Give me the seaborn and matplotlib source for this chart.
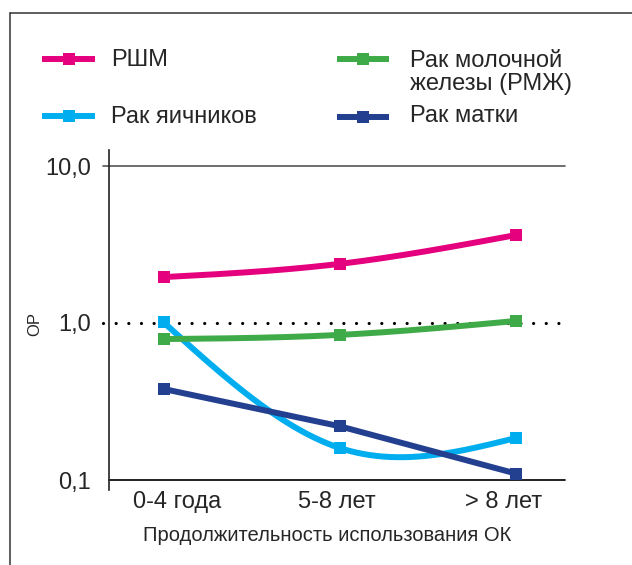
import numpy as np
import pandas as pd
import matplotlib
matplotlib.use("Agg")
import matplotlib.pyplot as plt
import matplotlib.transforms as mtransforms
import seaborn as sns
from matplotlib.lines import Line2D

# ---------------- data ----------------
categories = ["0-4 года", "5-8 лет", "> 8 лет"]
rshm = [1.96, 2.38, 3.63]
rmzh = [0.79, 0.84, 1.03]
ovary = [1.01, 0.16, 0.185]
uterus = [0.38, 0.22, 0.11]
series_names = ["РШМ", "Рак молочной\nжелезы (РМЖ)", "Рак яичников", "Рак матки"]
y_ticks = [0.1, 1.0, 10.0]
y_ticklabels = ["0,1", "1,0", "10,0"]
x_title = "Продолжительность использования ОК"
y_title = "ОР"

colors = {"РШМ": "#E5007D", "Рак молочной\nжелезы (РМЖ)": "#3EAA48",
          "Рак яичников": "#00AEEF", "Рак матки": "#233F8F"}
smooth = {"РШМ": True, "Рак молочной\nжелезы (РМЖ)": True,
          "Рак яичников": True, "Рак матки": False}
values = {"РШМ": rshm, "Рак молочной\nжелезы (РМЖ)": rmzh,
          "Рак яичников": ovary, "Рак матки": uterus}

pos = np.arange(len(categories))
df = pd.concat([pd.DataFrame({"pos": pos, "value": values[n], "series": n})
                for n in series_names], ignore_index=True)

# ---------------- style ----------------
sns.set_style("white")
plt.rcParams["font.family"] = ["Liberation Sans", "DejaVu Sans"]

W, H = 632, 565
fig = plt.figure(figsize=(W / 100, H / 100), dpi=100)
ax_left, ax_right, ax_top, ax_bottom = 109, 565, 150, 490
ax = fig.add_axes([ax_left / W, 1 - ax_bottom / H,
                   (ax_right - ax_left) / W, (ax_bottom - ax_top) / H])
ax.set_yscale("log")


def natural_spline(xk, yk, xs):
    xk = np.asarray(xk, float)
    yk = np.asarray(yk, float)
    n = len(xk)
    h = np.diff(xk)
    A = np.zeros((n, n))
    b = np.zeros(n)
    A[0, 0] = 1
    A[-1, -1] = 1
    for i in range(1, n - 1):
        A[i, i - 1] = h[i - 1]
        A[i, i] = 2 * (h[i - 1] + h[i])
        A[i, i + 1] = h[i]
        b[i] = 6 * ((yk[i + 1] - yk[i]) / h[i] - (yk[i] - yk[i - 1]) / h[i - 1])
    M = np.linalg.solve(A, b)
    out = np.empty_like(xs)
    for j, x in enumerate(xs):
        i = min(max(np.searchsorted(xk, x) - 1, 0), n - 2)
        a, c = xk[i], xk[i + 1]
        hi = c - a
        out[j] = (M[i] * (c - x) ** 3 / (6 * hi) + M[i + 1] * (x - a) ** 3 / (6 * hi)
                  + (yk[i] - M[i] * hi ** 2 / 6) * (c - x) / hi
                  + (yk[i + 1] - M[i + 1] * hi ** 2 / 6) * (x - a) / hi)
    return out


LW = 4.3
order = ["Рак яичников", "Рак молочной\nжелезы (РМЖ)", "РШМ", "Рак матки"]
for k, name in enumerate(order):
    sub = df[df["series"] == name]
    if smooth[name]:
        xs = np.linspace(sub["pos"].min(), sub["pos"].max(), 300)
        ys = 10 ** natural_spline(sub["pos"], np.log10(sub["value"]), xs)
        ax.plot(xs, ys, color=colors[name], lw=LW, solid_capstyle="butt", zorder=3 + k)
    else:
        sns.lineplot(data=sub, x="pos", y="value", color=colors[name], lw=LW,
                     ax=ax, legend=False, zorder=3 + k)
    sns.scatterplot(data=sub, x="pos", y="value", color=colors[name], marker="s",
                    s=78, linewidth=0, ax=ax, legend=False, zorder=10 + k)

# reference lines
ax.axhline(10, xmin=-0.014, xmax=1, color="#555555", lw=1.2, clip_on=False, zorder=1)
ax.axhline(0.1, xmin=0, xmax=1, color="#111111", lw=1.3, clip_on=False, zorder=1)
ax.axhline(1.0, xmin=-0.014, xmax=1.002, color="black", lw=2.3,
           linestyle=(0, (0.01, 3.95)), dash_capstyle="round", clip_on=False, zorder=2)

ax.set_xlim(-0.31, 2.28)
ax.set_ylim(10 ** ((323 - ax_bottom) / 157), 10 ** ((323 - ax_top) / 157))

ax.set_yticks(y_ticks)
ax.set_yticklabels(y_ticklabels, fontsize=17)
ax.yaxis.set_minor_locator(matplotlib.ticker.NullLocator())
ax.set_xticks(pos)
ax.set_xticklabels(categories, fontsize=17)
ax.tick_params(axis="both", length=0)
ax.tick_params(axis="y", pad=13)
ax.tick_params(axis="x", pad=1)
# labels in the reference sit slightly off the marker centres
for lab, dx in zip(ax.get_xticklabels(), [14, -3, -12]):
    lab.set_transform(lab.get_transform() +
                      mtransforms.ScaledTranslation(dx / 100, 0, fig.dpi_scale_trans))
ax.set_xlabel(x_title, fontsize=14.5)
ax.xaxis.set_label_coords((327 - ax_left) / (ax_right - ax_left), -0.105)
ax.set_ylabel("")

for s in ["top", "right", "bottom"]:
    ax.spines[s].set_visible(False)
ax.spines["left"].set_color("#222222")
ax.spines["left"].set_linewidth(1.2)

fig.text(35 / W, 1 - 324 / H, y_title, rotation=90, fontsize=12,
         ha="center", va="center")

# ---------------- legend (manual) ----------------
leg = [("РШМ", 42, 95, 69, 59, 111, 66),
       ("Рак яичников", 42, 95, 69, 116, 111, 123),
       ("Рак молочной\nжелезы (РМЖ)", 337, 389, 363, 59, 410, 90),
       ("Рак матки", 337, 389, 363, 117, 410, 122)]
for name, x0, x1, xm, y, xt, yb in leg:
    fig.add_artist(Line2D([x0 / W, x1 / W], [1 - y / H, 1 - y / H],
                          color=colors[name], lw=LW, solid_capstyle="butt"))
    fig.add_artist(Line2D([xm / W], [1 - y / H], color=colors[name], marker="s",
                          markersize=8.8, markeredgewidth=0))
    fig.text(xt / W, 1 - yb / H, name, fontsize=17, ha="left", va="baseline",
             linespacing=1.05)

# outer frame (top and left only)
fig.add_artist(Line2D([9.5 / W, 1], [1 - 13 / H, 1 - 13 / H], color="#333333", lw=1.1))
fig.add_artist(Line2D([9.5 / W, 9.5 / W], [0, 1 - 13 / H], color="#333333", lw=1.1))

fig.savefig("out.png", dpi=100)
